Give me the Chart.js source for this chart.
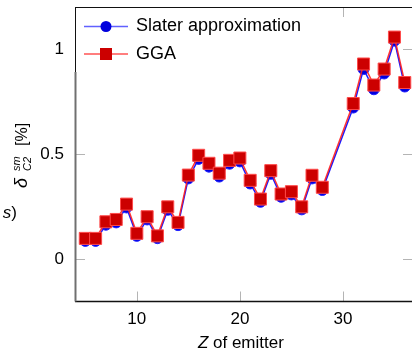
<!DOCTYPE html>
<html>
<head>
<meta charset="utf-8">
<script src="https://cdn.jsdelivr.net/npm/chart.js@4"></script>
<style>
  html, body { margin: 0; padding: 0; background: #fff; overflow: hidden; }
  #wrap { width: 412px; height: 350px; overflow: hidden; }
</style>
</head>
<body>
<div id="wrap"><canvas id="myChart" width="416" height="350"></canvas></div>
<script>
// data
var zValues = [5, 6, 7, 8, 9, 10, 11, 12, 13, 14, 15, 16, 17, 18, 19, 20,
               21, 22, 23, 24, 25, 26, 27, 28, 31, 32, 33, 34, 35, 36];
var slater = [0.088, 0.088, 0.165, 0.176, 0.247, 0.112, 0.190, 0.101, 0.236, 0.163,
              0.385, 0.478, 0.441, 0.394, 0.455, 0.466, 0.361, 0.274, 0.407, 0.298,
              0.309, 0.238, 0.385, 0.330, 0.722, 0.905, 0.809, 0.884, 1.040, 0.822];
var gga = [0.100, 0.100, 0.179, 0.190, 0.263, 0.124, 0.203, 0.112, 0.250, 0.176,
           0.401, 0.495, 0.457, 0.410, 0.471, 0.482, 0.376, 0.287, 0.422, 0.311,
           0.322, 0.250, 0.400, 0.343, 0.741, 0.929, 0.829, 0.905, 1.057, 0.841];
var xTicks = [10, 20, 30];
var yTicks = [0, 0.5, 1];
var seriesNames = ['Slater approximation', 'GGA'];

function toPoints(ys) {
  return zValues.map(function (z, i) { return { x: z, y: ys[i] }; });
}

var FONT = '"Liberation Sans", Arial, sans-serif';

// frame, inward ticks, legend and axis titles
var decorations = {
  id: 'decorations',
  afterDraw: function (chart) {
    var ctx = chart.ctx, a = chart.chartArea;
    var xs = chart.scales.x, ys = chart.scales.y;
    ctx.save();

    // inward ticks
    ctx.strokeStyle = '#b4b4b4';
    ctx.lineWidth = 1;
    ctx.beginPath();
    xTicks.forEach(function (t) {
      var px = Math.round(xs.getPixelForValue(t)) + 0.5;
      ctx.moveTo(px, a.bottom); ctx.lineTo(px, a.bottom - 10);
      ctx.moveTo(px, a.top); ctx.lineTo(px, a.top + 10);
    });
    yTicks.forEach(function (t) {
      var py = Math.round(ys.getPixelForValue(t)) + 0.5;
      ctx.moveTo(a.left, py); ctx.lineTo(a.left + 10, py);
      ctx.moveTo(a.right, py); ctx.lineTo(a.right - 10, py);
    });
    ctx.stroke();

    // legend box
    var lx = a.left, ly = a.top, lw = 240, lh = 65;
    ctx.fillStyle = '#fff';
    ctx.fillRect(lx, ly, lw, lh);
    ctx.font = '18px ' + FONT;
    ctx.textBaseline = 'middle';
    ctx.textAlign = 'left';
    var rows = [ly + 19.5, ly + 47];
    // Slater row
    ctx.strokeStyle = 'rgba(30,30,255,0.7)';
    ctx.lineWidth = 1.5;
    ctx.beginPath(); ctx.moveTo(lx + 9, rows[0]); ctx.lineTo(lx + 53, rows[0]); ctx.stroke();
    ctx.fillStyle = '#0000dd';
    ctx.beginPath(); ctx.arc(lx + 31, rows[0], 5.5, 0, Math.PI * 2); ctx.fill();
    ctx.fillStyle = '#000';
    ctx.fillText(seriesNames[0], lx + 61, rows[0]);
    // GGA row
    ctx.strokeStyle = 'rgba(255,40,40,0.8)';
    ctx.beginPath(); ctx.moveTo(lx + 9, rows[1]); ctx.lineTo(lx + 53, rows[1]); ctx.stroke();
    ctx.fillStyle = '#cc0000';
    ctx.fillRect(lx + 25, rows[1] - 6, 12, 12);
    ctx.fillStyle = '#000';
    ctx.fillText(seriesNames[1], lx + 61, rows[1]);

    // frame
    ctx.strokeStyle = '#111';
    ctx.lineWidth = 1;
    ctx.beginPath();
    ctx.moveTo(a.left, a.top + 0.5); ctx.lineTo(a.right, a.top + 0.5);
    ctx.moveTo(a.left + 0.5, a.top); ctx.lineTo(a.left + 0.5, a.top + lh);
    ctx.stroke();
    ctx.lineWidth = 1.5;
    ctx.beginPath();
    ctx.moveTo(a.left, a.bottom); ctx.lineTo(a.right, a.bottom);
    ctx.moveTo(a.right, a.top); ctx.lineTo(a.right, a.bottom);
    ctx.stroke();
    ctx.strokeStyle = '#707070';
    ctx.lineWidth = 2;
    ctx.beginPath();
    ctx.moveTo(a.left + 0.5, a.top + lh); ctx.lineTo(a.left + 0.5, a.bottom);
    ctx.stroke();

    // x title: "Z of emitter"
    ctx.fillStyle = '#000';
    ctx.textBaseline = 'alphabetic';
    var cx = xs.getPixelForValue(20) + 1;
    ctx.font = 'italic 17px ' + FONT;
    var wZ = ctx.measureText('Z').width;
    ctx.font = '17px ' + FONT;
    var wRest = ctx.measureText(' of emitter').width;
    var sx = cx - (wZ + wRest) / 2;
    ctx.font = 'italic 17px ' + FONT;
    ctx.fillText('Z', sx, 348);
    ctx.font = '17px ' + FONT;
    ctx.fillText(' of emitter', sx + wZ, 348);

    // y title: delta^sm_C2 [%], rotated
    ctx.save();
    ctx.translate(27, 188);
    ctx.rotate(-Math.PI / 2);
    ctx.font = 'italic 18px ' + FONT;
    ctx.fillText('\u03b4', 0, 0);
    ctx.font = 'italic 11px ' + FONT;
    ctx.fillText('sm', 17, -7);
    ctx.fillText('C2', 17, 4);
    ctx.font = '16px ' + FONT;
    ctx.fillText('[%]', 42, 0);
    ctx.restore();

    // clipped "s)" left over from the neighbouring panel
    ctx.textAlign = 'right';
    ctx.font = '17px ' + FONT;
    ctx.fillText(')', 17, 218);
    var wp = ctx.measureText(')').width;
    ctx.font = 'italic 17px ' + FONT;
    ctx.fillText('s', 17 - wp, 218);

    ctx.restore();
  }
};

var ctx = document.getElementById('myChart');
var myChart = new Chart(ctx, {
  type: 'line',
  data: {
    datasets: [{
      label: seriesNames[1],
      data: toPoints(gga),
      order: 0,
      borderColor: 'rgba(255,30,30,0.9)',
      borderWidth: 1.5,
      pointStyle: 'rect',
      pointRadius: 8.5,
      pointBackgroundColor: '#cc0000',
      pointBorderColor: '#ff4a4a',
      pointBorderWidth: 1,
      tension: 0
    }, {
      label: seriesNames[0],
      data: toPoints(slater),
      order: 1,
      borderColor: '#1a1aff',
      borderWidth: 1.5,
      pointStyle: 'circle',
      pointRadius: 5.5,
      pointBackgroundColor: '#0000dd',
      pointBorderColor: '#2020ff',
      pointBorderWidth: 1,
      tension: 0
    }]
  },
  options: {
    responsive: false,
    animation: false,
    devicePixelRatio: 1,
    clip: false,
    layout: { autoPadding: false, padding: { top: 7, right: 3, left: 0, bottom: 0 } },
    plugins: {
      legend: { display: false },
      tooltip: { enabled: false }
    },
    scales: {
      x: {
        type: 'linear',
        min: 4,
        max: 36.8,
        afterBuildTicks: function (s) { s.ticks = xTicks.map(function (v) { return { value: v }; }); },
        afterFit: function (s) {
          s.height = 48.5;
          s.paddingLeft = 0; s.paddingRight = 0;
        },
        grid: { display: false, drawTicks: false },
        border: { display: false },
        ticks: {
          padding: 8,
          color: '#000',
          font: { family: FONT, size: 17 }
        }
      },
      y: {
        type: 'linear',
        min: -0.2,
        max: 1.2,
        afterBuildTicks: function (s) { s.ticks = yTicks.map(function (v) { return { value: v }; }); },
        afterFit: function (s) {
          s.width = 75;
          s.paddingTop = 0; s.paddingBottom = 0;
        },
        grid: { display: false, drawTicks: false },
        border: { display: false },
        ticks: {
          padding: 11,
          color: '#000',
          font: { family: FONT, size: 17 },
          callback: function (v) { return String(v); }
        }
      }
    }
  },
  plugins: [decorations]
});
</script>
</body>
</html>
